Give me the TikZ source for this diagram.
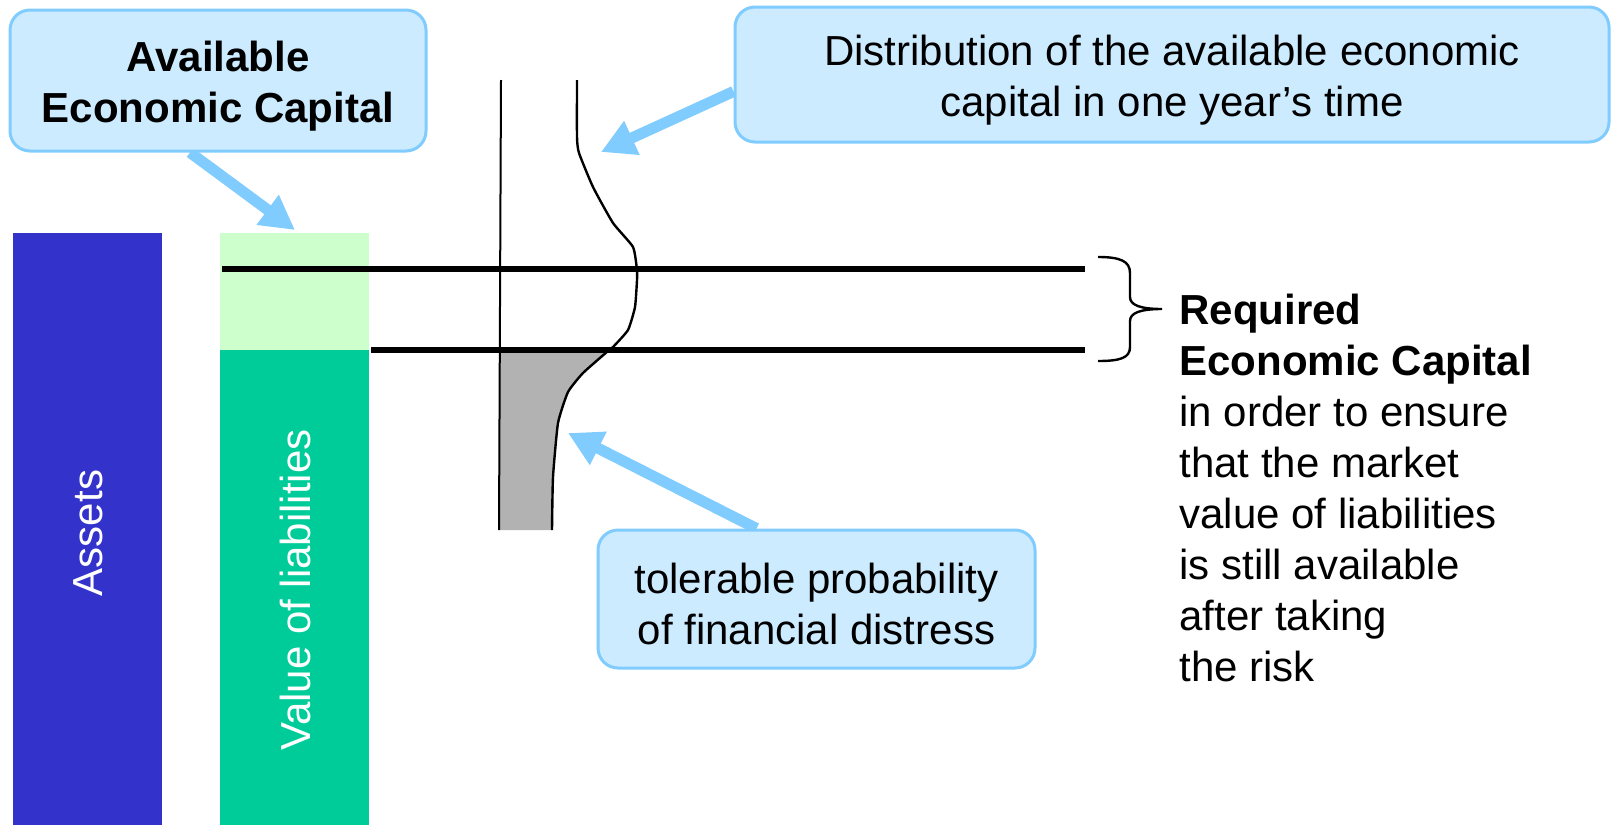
\documentclass[tikz,border=0pt]{standalone}
\usepackage{fontspec}
\setmainfont{Liberation Sans}
\usetikzlibrary{arrows.meta,calc,backgrounds}
\definecolor{assetblue}{RGB}{51,51,204}
\definecolor{liabgreen}{RGB}{0,204,153}
\definecolor{capgreen}{RGB}{204,255,204}
\definecolor{calloutfill}{RGB}{204,235,255}
\definecolor{calloutedge}{RGB}{128,204,255}
\definecolor{tailgray}{RGB}{178,178,178}
\newcommand\capstrut{\rule{0pt}{20.5pt}}
\tikzset{
  callout/.style={draw=calloutedge, line width=1.5pt, fill=calloutfill, rounded corners=10pt, align=center, inner sep=0pt},
  callarrow/.style={draw=calloutedge, line width=5.5pt, -{Triangle[width=17.5pt,length=17pt]}},
  barlabel/.style={text=white, rotate=90},
}

\begin{document}
\begin{tikzpicture}[x=0.5pt, y=-0.5pt, font=\fontsize{21}{25.5}\selectfont]
	%%%%% START %%%%%
	\useasboundingbox (0,0) rectangle (1611,825);
	
	% balance sheet bars
	\fill[assetblue] (13,233) rectangle (162,825);
	\fill[capgreen] (220,233) rectangle (369,350);
	\fill[liabgreen] (220,350) rectangle (369,825);
	\node[barlabel] (assets) at (88,533) {Assets};
	\node[barlabel] (liab) at (295,590) {Value of liabilities};
	
	% tail below the required level
	\fill[tailgray] (500,351) -- plot[smooth, tension=0.3] coordinates {(608,351) (583,373) (568,392) (558,423) (553,477) (552,530)} -- (500,530) -- cycle;
	
	% distribution
	\draw[line width=1pt] (501,80) -- (499,530);
	\draw[line width=1.2pt] plot[smooth, tension=0.3] coordinates {(577,80) (577,137) (579,153) (593,187) (613,223) (633,247) (637,270) (637,280) (635,307) (628,330) (613,347) (608,351) (583,373) (568,392) (558,423) (553,477) (552,530)};
	
	% capital levels
	\draw[line width=3pt] (222,269) -- (1085,269);
	\draw[line width=3pt] (371,350) -- (1085,350);
	\draw[line width=1.2pt] (1098,257) .. controls (1120,257) and (1130,261) .. (1130,273) -- (1130,297)
		.. controls (1130,305) and (1140,309) .. (1162,309)
		.. controls (1140,309) and (1130,313) .. (1130,321) -- (1130,347)
		.. controls (1130,358) and (1120,361) .. (1098,361);
	
	\node[anchor=north west, inner sep=0pt, align=left] (req) at (1179,294) {\textbf{Required}\\\textbf{Economic Capital}\\in order to ensure\\that the market\\value of liabilities\\is still available\\after taking\\the risk};
	
	% callouts
	\node[callout, minimum width=208pt, minimum height=70.5pt] (aec) at (218,80.5) {\capstrut\textbf{Available}\\\textbf{Economic Capital}};
	\node[callout, minimum width=437pt, minimum height=67.5pt] (dist) at (1172,74.5) {\capstrut Distribution of the available economic\\capital in one year’s time};
	\node[callout, minimum width=218.5pt, minimum height=69pt] (tol) at (816.5,599) {\capstrut tolerable probability\\of financial distress};
	
	\coordinate (aectip) at (295,230);
	\coordinate (disttip) at (601,152);
	\coordinate (toltip) at (568,433);
	
	\begin{scope}[on background layer]
		\draw[callarrow] ($(aec.south)+(-28,0)$) -- (aectip);
		\draw[callarrow] ($(dist.west)+(0,17)$) -- (disttip);
		\draw[callarrow] ($(tol.north)+(-60,0)$) -- (toltip);
	\end{scope}
	
	%%%%% END %%%%%
\end{tikzpicture}
\end{document}
